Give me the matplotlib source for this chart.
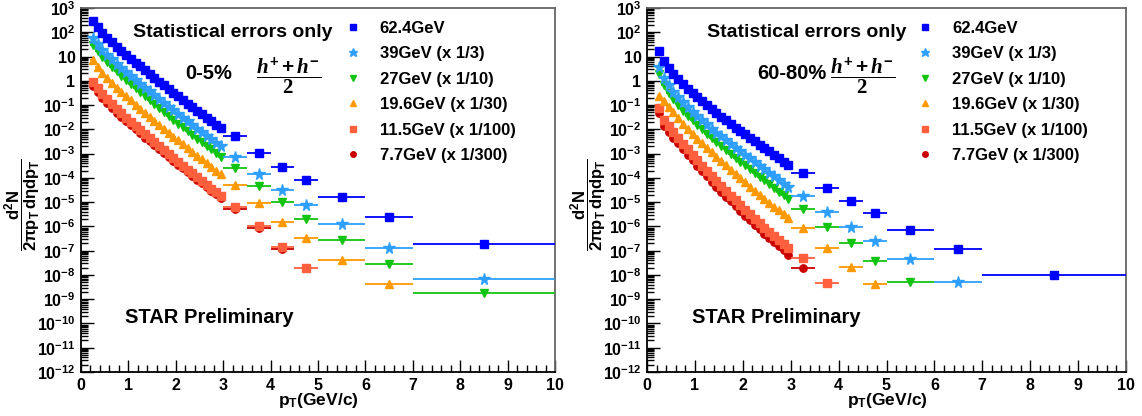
import numpy as np
import matplotlib
matplotlib.use("Agg")
import matplotlib.pyplot as plt
from matplotlib.lines import Line2D
from matplotlib.ticker import FixedLocator, FuncFormatter, MultipleLocator, LogLocator, NullFormatter

plt.rcParams["font.family"] = ["Liberation Sans", "DejaVu Sans"]
plt.rcParams["font.weight"] = "bold"
plt.rcParams["mathtext.fontset"] = "custom"
plt.rcParams["mathtext.rm"] = "Liberation Sans:bold"
plt.rcParams["mathtext.sf"] = "Liberation Sans:bold"
plt.rcParams["mathtext.it"] = "Liberation Serif:italic:bold"
plt.rcParams["mathtext.bf"] = "Liberation Serif:bold"

# pT bin centres (GeV/c) and half widths
pt_low = [0.25, 0.35, 0.45, 0.55, 0.65, 0.75, 0.85, 0.95, 1.05, 1.15,
          1.25, 1.35, 1.45, 1.55, 1.65, 1.75, 1.85, 1.95, 2.05, 2.15,
          2.25, 2.35, 2.45, 2.55, 2.65, 2.75, 2.85, 2.95]
pt_low_halfwidth = 0.05
pt_high = [3.25, 3.75, 4.25, 4.75, 5.5, 6.5, 8.5]
pt_high_halfwidth = [0.25, 0.25, 0.25, 0.25, 0.5, 0.5, 1.5]

labels = ["62.4GeV", "39GeV (x 1/3)", "27GeV (x 1/10)",
          "19.6GeV (x 1/30)", "11.5GeV (x 1/100)", "7.7GeV (x 1/300)"]
colors = ["#0000ff", "#2f9fff", "#12c412", "#ff9900", "#ff5f3c", "#c80000"]
markers = ["s", "*", "v", "^", "s", "o"]
msizes = [5.8, 8.5, 6.3, 6.3, 5.8, 5.3]

# log10 of d2N/(2pi pT deta dpT), 0-5% centrality
c05_624_low = [2.46, 2.20, 1.98, 1.78, 1.59, 1.41, 1.24, 1.07, 0.91, 0.75, 0.59, 0.43, 0.27, 0.12,
               -0.04, -0.19, -0.34, -0.49, -0.64, -0.79, -0.94, -1.08, -1.23, -1.37, -1.52, -1.66, -1.81, -1.95]
c05_624_high = [-2.28, -2.96, -3.56, -4.08, -4.77, -5.63, -6.72]
c05_39_low = [1.77, 1.51, 1.28, 1.08, 0.89, 0.71, 0.53, 0.36, 0.20, 0.04, -0.13, -0.29, -0.44, -0.60,
              -0.76, -0.91, -1.06, -1.22, -1.37, -1.52, -1.67, -1.82, -1.97, -2.11, -2.26, -2.41, -2.55, -2.70]
c05_39_high = [-3.15, -3.83, -4.52, -5.12, -5.90, -6.87, -8.16]
c05_27_low = [1.49, 1.22, 0.99, 0.78, 0.58, 0.39, 0.21, 0.03, -0.14, -0.31, -0.47, -0.64, -0.80, -0.97,
              -1.13, -1.29, -1.45, -1.60, -1.76, -1.92, -2.08, -2.23, -2.38, -2.53, -2.68, -2.83, -2.99, -3.14]
c05_27_high = [-3.58, -4.33, -5.01, -5.71, -6.56, -7.57, -8.74]
c05_196_low = [0.84, 0.56, 0.33, 0.12, -0.09, -0.28, -0.46, -0.64, -0.81, -0.98, -1.15, -1.32, -1.49, -1.66,
               -1.82, -1.98, -2.14, -2.30, -2.46, -2.62, -2.78, -2.93, -3.09, -3.24, -3.40, -3.55, -3.71, -3.86]
c05_196_high = [-4.30, -5.05, -5.80, -6.49, -7.39, -8.38]
c05_115_low = [-0.03, -0.31, -0.54, -0.76, -0.96, -1.15, -1.34, -1.52, -1.69, -1.86, -2.03, -2.20, -2.37, -2.54,
               -2.70, -2.86, -3.02, -3.18, -3.34, -3.50, -3.66, -3.82, -3.98, -4.13, -4.28, -4.44, -4.59, -4.75]
c05_115_high = [-5.21, -5.98, -6.83, -7.70]
c05_77_low = [-0.21, -0.48, -0.71, -0.92, -1.12, -1.31, -1.49, -1.67, -1.83, -2.00, -2.17, -2.34, -2.50, -2.66,
              -2.83, -2.98, -3.14, -3.30, -3.45, -3.61, -3.77, -3.92, -4.07, -4.22, -4.37, -4.53, -4.68, -4.83]
c05_77_high = [-5.30, -6.07, -6.92]

# 60-80% centrality
p6080_624_low = [1.23, 0.82, 0.53, 0.28, 0.06, -0.14, -0.33, -0.51, -0.68, -0.85, -1.01, -1.17, -1.33, -1.48,
                 -1.63, -1.78, -1.93, -2.07, -2.21, -2.35, -2.49, -2.63, -2.77, -2.91, -3.05, -3.20, -3.34, -3.48]
p6080_624_high = [-3.82, -4.42, -4.94, -5.45, -6.14, -6.93, -7.99]
p6080_39_low = [0.55, 0.12, -0.19, -0.45, -0.68, -0.89, -1.09, -1.27, -1.46, -1.63, -1.80, -1.97, -2.14, -2.29,
                -2.45, -2.61, -2.77, -2.91, -3.06, -3.20, -3.35, -3.50, -3.64, -3.79, -3.94, -4.10, -4.24, -4.39]
p6080_39_high = [-4.76, -5.42, -6.04, -6.60, -7.34, -8.30]
p6080_27_low = [0.27, -0.18, -0.50, -0.77, -1.01, -1.23, -1.43, -1.63, -1.82, -2.00, -2.18, -2.35, -2.53, -2.69,
                -2.85, -3.01, -3.18, -3.33, -3.48, -3.64, -3.79, -3.95, -4.09, -4.25, -4.40, -4.57, -4.72, -4.87]
p6080_27_high = [-5.28, -6.04, -6.68, -7.41, -8.28]
p6080_196_low = [-0.62, -0.83, -1.06, -1.30, -1.54, -1.77, -1.98, -2.18, -2.38, -2.57, -2.76, -2.95, -3.13, -3.31,
                 -3.49, -3.67, -3.85, -4.02, -4.19, -4.36, -4.53, -4.70, -4.86, -5.02, -5.18, -5.34, -5.49, -5.64]
p6080_196_high = [-6.08, -6.88, -7.66, -8.38]
p6080_115_low = [-1.12, -1.62, -1.87, -2.12, -2.36, -2.60, -2.83, -3.06, -3.28, -3.50, -3.71, -3.92, -4.13, -4.33,
                 -4.53, -4.73, -4.93, -5.12, -5.31, -5.50, -5.69, -5.87, -6.05, -6.23, -6.40, -6.57, -6.74, -6.90]
p6080_115_high = [-7.31, -8.32]
p6080_77_low = [-1.32, -1.85, -2.09, -2.34, -2.58, -2.82, -3.05, -3.28, -3.50, -3.72, -3.94, -4.15, -4.36, -4.57,
                -4.77, -4.97, -5.17, -5.37, -5.56, -5.75, -5.94, -6.12, -6.30, -6.48, -6.65, -6.82, -6.99, -7.16]
p6080_77_high = [-7.72]

central = [(c05_624_low, c05_624_high), (c05_39_low, c05_39_high), (c05_27_low, c05_27_high),
           (c05_196_low, c05_196_high), (c05_115_low, c05_115_high), (c05_77_low, c05_77_high)]
peripheral = [(p6080_624_low, p6080_624_high), (p6080_39_low, p6080_39_high), (p6080_27_low, p6080_27_high),
              (p6080_196_low, p6080_196_high), (p6080_115_low, p6080_115_high), (p6080_77_low, p6080_77_high)]


def y_fmt(v, pos):
    k = int(round(np.log10(v)))
    if k == 0:
        return "1"
    if k == 1:
        return "10"
    return r"$\mathrm{10^{%d}}$" % k


def draw_panel(ax, series, cent_text, stat_x, cent_x, frac_x, leg_x):
    for i in reversed(range(6)):
        low, high = series[i]
        n = len(high)
        x = pt_low + pt_high[:n]
        xerr = [pt_low_halfwidth] * len(pt_low) + pt_high_halfwidth[:n]
        y = 10.0 ** np.array(low + high)
        ax.errorbar(x, y, xerr=xerr, fmt=markers[i], color=colors[i], mec=colors[i],
                    ms=msizes[i], elinewidth=1.3, capsize=0, zorder=3 + (6 - i))

    ax.set_yscale("log")
    ax.set_xlim(0, 10)
    ax.set_ylim(1e-12, 1e3)
    ax.yaxis.set_major_locator(FixedLocator([10.0 ** k for k in range(-12, 4)]))
    ax.yaxis.set_major_formatter(FuncFormatter(y_fmt))
    ax.yaxis.set_minor_locator(LogLocator(base=10, subs=np.arange(2, 10), numticks=100))
    ax.yaxis.set_minor_formatter(NullFormatter())
    ax.xaxis.set_major_locator(MultipleLocator(1))
    ax.xaxis.set_minor_locator(MultipleLocator(0.2))
    ax.tick_params(which="both", direction="in", top=False, right=False, labelsize=11.5, width=1)
    ax.tick_params(which="major", length=9, pad=4)
    ax.tick_params(which="minor", length=5)
    for s in ["left", "bottom"]:
        ax.spines[s].set_linewidth(1.3)
    for s in ["top", "right"]:
        ax.spines[s].set_color("#666666")
        ax.spines[s].set_linewidth(1.3)

    ax.text(stat_x, 0.934, "Statistical errors only", transform=ax.transAxes,
            fontsize=14, va="center")
    ax.text(cent_x, 0.82, cent_text, transform=ax.transAxes, fontsize=14.5, va="center")
    ax.text(frac_x, 0.812, r"$\dfrac{h^{+}+h^{-}}{\mathbf{2}}$", transform=ax.transAxes,
            fontsize=15, va="center", ha="center")
    ax.text(0.093, 0.15, "STAR Preliminary", transform=ax.transAxes, fontsize=14.5, va="center")

    handles = [Line2D([], [], ls="none", marker=markers[i], color=colors[i], ms=msizes[i] * 0.75)
               for i in range(6)]
    ax.legend(handles, labels, loc="upper left", bbox_to_anchor=(leg_x, 0.965), frameon=False,
              fontsize=12, handlelength=1.0, handletextpad=1.1, labelspacing=0.63,
              borderpad=0, borderaxespad=0)


fig = plt.figure(figsize=(11.42, 4.16), dpi=100)
H = 416.0
W = 1142.0
ax1 = fig.add_axes([81 / W, 1 - 372 / H, (555 - 81) / W, (372 - 8) / H])
ax2 = fig.add_axes([647 / W, 1 - 372 / H, (1126 - 647) / W, (372 - 8) / H])

draw_panel(ax1, central, "0-5%", 0.11, 0.219, 0.437, 0.556)
draw_panel(ax2, peripheral, "60-80%", 0.125, 0.23, 0.449, 0.564)

ylab = r"$\mathrm{\dfrac{d^{2}N}{2\pi p_{T}\,d\eta dp_{T}}}$"
fig.text(23 / W, 1 - 205 / H, ylab, rotation=90, fontsize=12, ha="center", va="center")
fig.text(589 / W, 1 - 205 / H, ylab, rotation=90, fontsize=12, ha="center", va="center")
xlab = r"$\mathrm{p_{T}}$(GeV/c)"
fig.text(318 / W, 1 - 401 / H, xlab, fontsize=12.5, ha="center", va="center")
fig.text(887 / W, 1 - 401 / H, xlab, fontsize=12.5, ha="center", va="center")

fig.savefig("out.png", dpi=100)
